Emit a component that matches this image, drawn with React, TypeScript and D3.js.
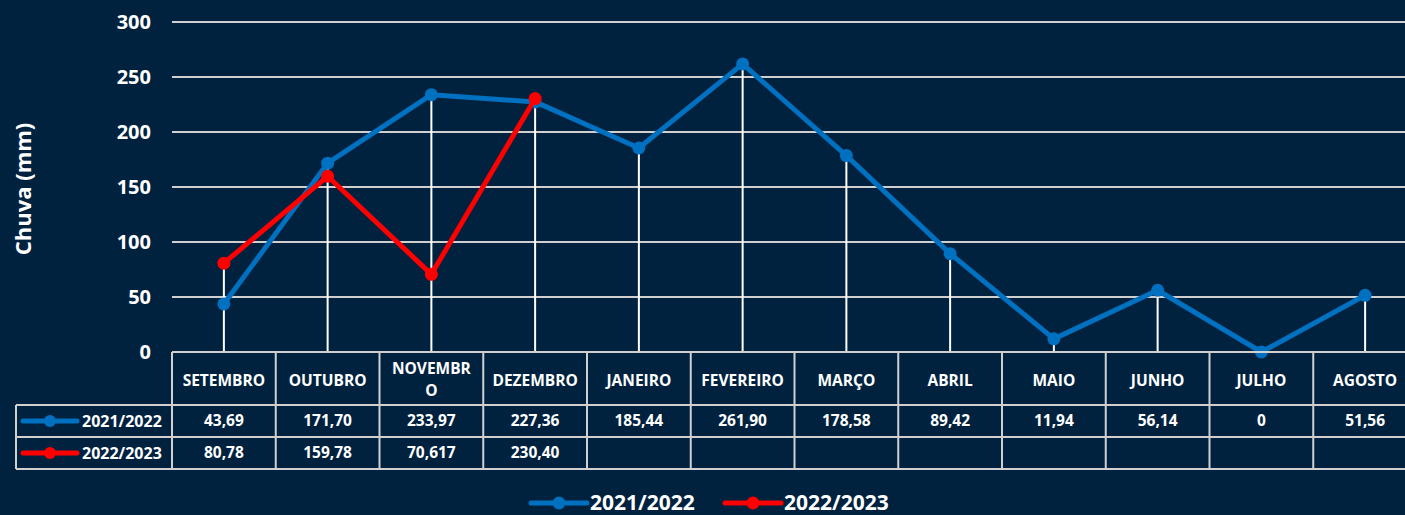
import React, { useEffect, useRef } from 'react';
import * as d3 from 'd3';

const months = ['SETEMBRO', 'OUTUBRO', 'NOVEMBRO', 'DEZEMBRO', 'JANEIRO', 'FEVEREIRO', 'MARÇO', 'ABRIL', 'MAIO', 'JUNHO', 'JULHO', 'AGOSTO'];
const seriesNames = ['2021/2022', '2022/2023'];
const rain2122 = [43.69, 171.7, 233.97, 227.36, 185.44, 261.9, 178.58, 89.42, 11.94, 56.14, 0, 51.56];
const rain2223 = [80.78, 159.78, 70.617, 230.4];
const labels2122 = ['43,69', '171,70', '233,97', '227,36', '185,44', '261,90', '178,58', '89,42', '11,94', '56,14', '0', '51,56'];
const labels2223 = ['80,78', '159,78', '70,617', '230,40'];
const yTicks = [0, 50, 100, 150, 200, 250, 300];
const colors = ['#0070C0', '#FF0000'];

const App = () => {
  const svgRef = useRef<SVGSVGElement | null>(null);

  useEffect(() => {
    const width = 1405;
    const height = 515;
    const left = 172;
    const colW = 103.75;
    const top = 22;
    const bottom = 352;
    const font = '"Open Sans", sans-serif';
    const gridColor = '#d0d0d0';

    const svg = d3.select(svgRef.current)
      .attr('width', width)
      .attr('height', height)
      .attr('viewBox', [0, 0, width, height].join(' '));
    svg.selectAll('*').remove();

    svg.append('rect').attr('width', width).attr('height', height).attr('fill', '#00223F');

    const x = d3.scaleBand<string>().domain(months).range([left, left + colW * months.length]);
    const cx = (m: string) => (x(m) as number) + x.bandwidth() / 2;
    const y = d3.scaleLinear().domain([0, 300]).range([bottom, top]);

    // gridlines
    svg.append('g').selectAll('line')
      .data(yTicks.filter(t => t > 0))
      .join('line')
      .attr('x1', left).attr('x2', width)
      .attr('y1', d => y(d)).attr('y2', d => y(d))
      .attr('stroke', gridColor).attr('stroke-width', 2);

    // y tick labels
    svg.append('g').selectAll('text')
      .data(yTicks)
      .join('text')
      .attr('x', 151).attr('y', d => y(d))
      .attr('dy', '0.35em')
      .attr('text-anchor', 'end')
      .attr('fill', '#fff')
      .attr('font-family', font).attr('font-weight', 700).attr('font-size', 20)
      .text(d => d);

    svg.append('text')
      .attr('transform', 'translate(31,189) rotate(-90)')
      .attr('text-anchor', 'middle')
      .attr('fill', '#fff')
      .attr('font-family', font).attr('font-weight', 700).attr('font-size', 22)
      .text('Chuva (mm)');

    // drop lines
    svg.append('g').selectAll('line')
      .data(months)
      .join('line')
      .attr('x1', d => cx(d)).attr('x2', d => cx(d))
      .attr('y1', bottom)
      .attr('y2', (d, i) => y(Math.max(rain2122[i], i < rain2223.length ? rain2223[i] : 0)))
      .attr('stroke', '#fff').attr('stroke-width', 2);

    // series
    const series = [rain2122, rain2223];
    series.forEach((vals, s) => {
      const pts = vals.map((v, i) => [cx(months[i]), y(v)] as [number, number]);
      svg.append('path')
        .attr('d', d3.line()(pts))
        .attr('fill', 'none')
        .attr('stroke', colors[s]).attr('stroke-width', 5)
        .attr('stroke-linejoin', 'round');
      svg.append('g').selectAll('circle')
        .data(pts)
        .join('circle')
        .attr('cx', d => d[0]).attr('cy', d => d[1])
        .attr('r', 6.5)
        .attr('fill', colors[s]);
    });

    // data table
    const rowTop = bottom;
    const row1 = 405;
    const row2 = 437;
    const row3 = 469;
    const tableRight = left + colW * months.length;
    const t = svg.append('g')
      .attr('stroke', gridColor).attr('stroke-width', 2);
    t.append('line').attr('x1', left).attr('x2', tableRight).attr('y1', rowTop).attr('y2', rowTop);
    [row1, row2, row3].forEach(yy => {
      t.append('line').attr('x1', 16).attr('x2', tableRight).attr('y1', yy).attr('y2', yy);
    });
    t.append('line').attr('x1', 16).attr('x2', 16).attr('y1', row1).attr('y2', row3);
    months.forEach(m => {
      t.append('line')
        .attr('x1', x(m) as number).attr('x2', x(m) as number)
        .attr('y1', rowTop).attr('y2', row3);
    });

    const cellText = (g: d3.Selection<SVGGElement, unknown, null, undefined>) =>
      g.attr('fill', '#fff')
        .attr('font-family', font).attr('font-weight', 700).attr('font-size', 15.5)
        .attr('text-anchor', 'middle');

    // header with simple wrapping
    const header = svg.append('g').call(cellText);
    months.forEach(m => {
      const txt = header.append('text').attr('x', cx(m));
      txt.text(m);
      const maxW = x.bandwidth() - 14;
      const node = txt.node() as SVGTextElement;
      if (node.getComputedTextLength() > maxW) {
        let cut = m.length - 1;
        txt.text(m.slice(0, cut));
        while (cut > 1 && node.getComputedTextLength() > maxW) {
          cut--;
          txt.text(m.slice(0, cut));
        }
        txt.text(null);
        txt.append('tspan').attr('x', cx(m)).attr('y', 374).text(m.slice(0, cut));
        txt.append('tspan').attr('x', cx(m)).attr('y', 396).text(m.slice(cut));
      } else {
        txt.attr('y', 386);
      }
    });

    const rows = [labels2122, labels2223];
    const rowY = [row1, row2];
    rows.forEach((labs, r) => {
      const g = svg.append('g').call(cellText);
      labs.forEach((l, i) => {
        g.append('text')
          .attr('x', cx(months[i]))
          .attr('y', rowY[r] + 16).attr('dy', '0.35em')
          .text(l);
      });
      // legend key in table
      const ky = rowY[r] + 16;
      svg.append('line').attr('x1', 23).attr('x2', 77).attr('y1', ky).attr('y2', ky)
        .attr('stroke', colors[r]).attr('stroke-width', 5).attr('stroke-linecap', 'round');
      svg.append('circle').attr('cx', 50).attr('cy', ky).attr('r', 6).attr('fill', colors[r]);
      svg.append('text')
        .attr('x', 82).attr('y', ky).attr('dy', '0.35em')
        .attr('fill', '#fff')
        .attr('font-family', font).attr('font-weight', 700).attr('font-size', 16)
        .text(seriesNames[r]);
    });

    // bottom legend
    const legendX = [531, 725];
    seriesNames.forEach((name, i) => {
      const lx = legendX[i];
      const ly = 503;
      svg.append('line').attr('x1', lx).attr('x2', lx + 56).attr('y1', ly).attr('y2', ly)
        .attr('stroke', colors[i]).attr('stroke-width', 5).attr('stroke-linecap', 'round');
      svg.append('circle').attr('cx', lx + 28).attr('cy', ly).attr('r', 6.5).attr('fill', colors[i]);
      svg.append('text')
        .attr('x', lx + 59).attr('y', ly).attr('dy', '0.35em')
        .attr('fill', '#fff')
        .attr('font-family', font).attr('font-weight', 700).attr('font-size', 21)
        .text(name);
    });
  }, []);

  return (
    <div style={{ position: 'absolute', left: 0, top: 0 }}>
      <svg ref={svgRef} style={{ display: 'block' }}></svg>
    </div>
  );
};

export default App;
